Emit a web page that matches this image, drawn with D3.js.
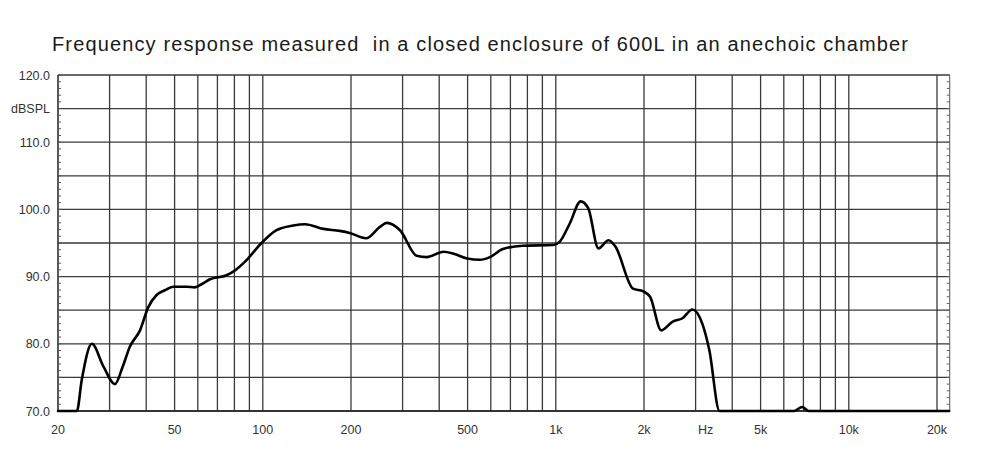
<!DOCTYPE html>
<html><head><meta charset="utf-8">
<script src="https://cdn.jsdelivr.net/npm/d3@7"></script>
<style>
html,body{margin:0;padding:0;background:#fff;}
svg{display:block;}
</style></head>
<body>
<svg id="chart" width="1000" height="470"></svg>
<script>
const title = "Frequency response measured  in a closed enclosure of 600L in an anechoic chamber";
const freqs = [20, 23.2, 24.1, 26.1, 28.6, 31.3, 33.2, 35.2, 38.1, 40.7, 43.5, 46.5, 49.5, 55, 58.6, 62, 66, 75.2, 79, 88.2, 99, 111.4, 127, 139.4, 161, 183, 198, 225, 251, 265, 294, 335, 363, 414, 448, 498, 552, 596, 660, 771, 980, 1032, 1116, 1216, 1290, 1398, 1513, 1596, 1835, 1988, 2098, 2290, 2507, 2706, 2926, 3162, 3340, 3620, 6500, 6930, 7300, 22000];
const spl   = [70, 70, 74.6, 80.0, 76.6, 74.0, 76.5, 79.6, 82.0, 85.5, 87.3, 88.0, 88.5, 88.5, 88.4, 88.9, 89.6, 90.2, 90.7, 92.5, 95.0, 96.9, 97.6, 97.8, 97.1, 96.8, 96.5, 95.7, 97.4, 98.0, 96.9, 93.1, 92.9, 93.7, 93.4, 92.7, 92.5, 92.9, 94.1, 94.6, 94.7, 95.2, 97.9, 101.2, 100.2, 94.2, 95.4, 94.5, 88.2, 87.8, 87.0, 82.0, 83.3, 83.8, 85.1, 83.0, 79.1, 70, 70, 70.6, 70, 70];
const yTicks = [70, 80, 90, 100, 110, 120];
const yTickLabels = ["70.0", "80.0", "90.0", "100.0", "110.0", "120.0"];
const yUnit = "dBSPL";
const yUnitAt = 115;
const hGrid = [70, 75, 80, 85, 90, 95, 100, 105, 110, 115, 120];
const vGrid = [30,40,50,60,70,80,90,100,200,300,400,500,600,700,800,900,1000,2000,3000,4000,5000,6000,7000,8000,9000,10000,20000];
const xTicks = [20, 50, 100, 200, 500, 1000, 2000, 3000, 5000, 10000, 20000];
const xTickLabels = ["20", "50", "100", "200", "500", "1k", "2k", "Hz", "5k", "10k", "20k"];
const xEdge = 22100;

const svg = d3.select("#chart");
const x = d3.scaleLog().domain([20, 20000]).range([58, 937]);
const y = d3.scaleLinear().domain([70, 120]).range([411, 75]);
const L = x(20), R = x(xEdge), T = y(120), B = y(70);
const gridColor = "#3a3a3a";

svg.append("text").attr("x", 52).attr("y", 51)
  .attr("font-family", "Liberation Sans, Arial, sans-serif").attr("font-size", 20)
  .attr("fill", "#1a1a1a").attr("textLength", 856).attr("lengthAdjust", "spacing")
  .attr("xml:space", "preserve").style("white-space", "pre")
  .text(title);

const g = svg.append("g");
g.selectAll("line.h").data(hGrid).join("line")
  .attr("x1", L).attr("x2", R).attr("y1", d => y(d)).attr("y2", d => y(d))
  .attr("stroke", gridColor).attr("stroke-width", 1.3);
g.selectAll("line.v").data(vGrid).join("line")
  .attr("x1", d => x(d)).attr("x2", d => x(d)).attr("y1", T).attr("y2", B)
  .attr("stroke", gridColor).attr("stroke-width", 1.3);

// frame
g.append("line").attr("x1", L).attr("x2", L).attr("y1", T).attr("y2", B).attr("stroke", "#222").attr("stroke-width", 1.5);
g.append("line").attr("x1", R).attr("x2", R).attr("y1", T).attr("y2", B).attr("stroke", "#555").attr("stroke-width", 1);
g.append("line").attr("x1", L).attr("x2", R).attr("y1", B).attr("y2", B).attr("stroke", "#222").attr("stroke-width", 1.6);

// minor ticks every 1 dB
const minor = d3.range(70, 121, 1);
g.selectAll("line.ml").data(minor).join("line")
  .attr("x1", L).attr("x2", L + 3).attr("y1", d => y(d)).attr("y2", d => y(d))
  .attr("stroke", "#555").attr("stroke-width", 1);
g.selectAll("line.mr").data(minor).join("line")
  .attr("x1", R - 3).attr("x2", R).attr("y1", d => y(d)).attr("y2", d => y(d))
  .attr("stroke", "#666").attr("stroke-width", 1);

const font = "Liberation Sans, Arial, sans-serif";
svg.append("g").selectAll("text").data(yTicks).join("text")
  .attr("x", 50).attr("y", d => y(d)).attr("dy", "0.36em")
  .attr("text-anchor", "end").attr("font-family", font).attr("font-size", 12.5).attr("fill", "#333")
  .text((d, i) => yTickLabels[i]);
svg.append("text").attr("x", 50).attr("y", y(yUnitAt)).attr("dy", "0.36em")
  .attr("text-anchor", "end").attr("font-family", font).attr("font-size", 12.5).attr("fill", "#333")
  .text(yUnit);

svg.append("g").selectAll("text").data(xTicks).join("text")
  .attr("x", d => x(d) + (d === 3000 ? 10 : 0)).attr("y", 434)
  .attr("text-anchor", "middle").attr("font-family", font).attr("font-size", 12.5).attr("fill", "#333")
  .text((d, i) => xTickLabels[i]);

const pts = freqs.map((f, i) => [f, spl[i]]);
const line = d3.line().x(d => x(d[0])).y(d => y(d[1])).curve(d3.curveMonotoneX);
svg.append("path").datum(pts).attr("d", line)
  .attr("fill", "none").attr("stroke", "#000").attr("stroke-width", 2.6)
  .attr("stroke-linejoin", "round").attr("stroke-linecap", "round");
</script>
</body></html>
